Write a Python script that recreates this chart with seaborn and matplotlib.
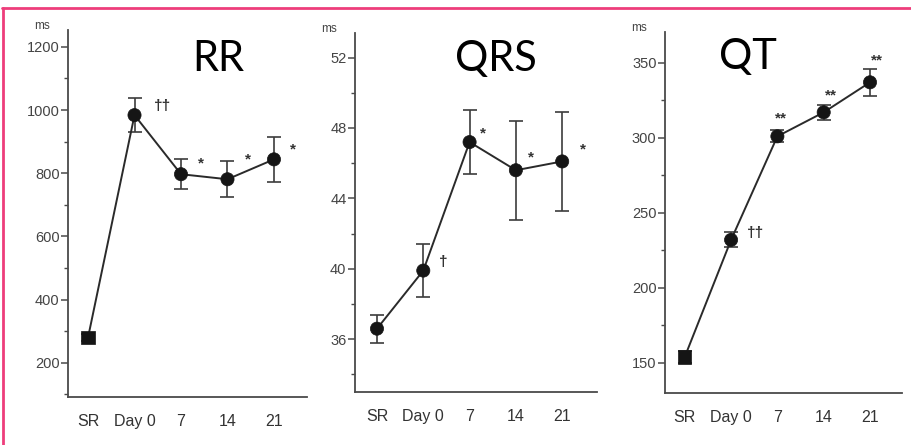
import matplotlib
matplotlib.use('Agg')
import matplotlib.pyplot as plt
from matplotlib.lines import Line2D
from matplotlib.ticker import MultipleLocator
import pandas as pd
import seaborn as sns

days = ['SR', 'Day 0', '7', '14', '21']

rr_mean = [280, 984, 797, 781, 844]
rr_err = [12, 55, 48, 57, 71]
rr_marks = ['', '††', '*', '*', '*']

qrs_mean = [36.6, 39.9, 47.2, 45.6, 46.1]
qrs_err = [0.8, 1.5, 1.8, 2.8, 2.8]
qrs_marks = ['', '†', '*', '*', '*']

qt_mean = [154, 232, 301, 317, 337]
qt_err = [4, 5, 4, 5, 9]
qt_marks = ['', '††', '**', '**', '**']

titles = ['RR', 'QRS', 'QT']
yticks = [[200, 400, 600, 800, 1000, 1200], [36, 40, 44, 48, 52], [150, 200, 250, 300, 350]]
minor_steps = [100, 2, 25]
ylims = [(92, 1254), (33.0, 53.4), (130, 370.5)]
sr_shapes = ['s', 'o', 's']

# layout (figure fractions)
boxes = [
    [0.0746, 0.108, 0.262, 0.825],
    [0.389, 0.119, 0.266, 0.807],
    [0.729, 0.117, 0.260, 0.811],
]
xlims = [(-0.43, 4.71), (-0.48, 4.76), (-0.43, 4.69)]
title_pos = [(0.63, 0.92), (0.58, 0.927), (0.35, 0.93)]
# annotation offsets in pixels from each point
mark_offsets = [
    [(0, 0), (28, 9), (20, 11), (20, 20), (19, 10)],
    [(0, 0), (20, 9), (13, 9), (15, 13), (21, 12)],
    [(0, 0), (24, 7), (4, 18), (7, 17), (7, 22)],
]

sns.set_style('white')
plt.rcParams['font.family'] = ['Liberation Sans', 'DejaVu Sans']

fig = plt.figure(figsize=(9.12, 4.45), dpi=100)

panels = [(rr_mean, rr_err, rr_marks), (qrs_mean, qrs_err, qrs_marks), (qt_mean, qt_err, qt_marks)]
axis_col = '#4a4a4a'
ink = '#151515'

for i, (mean, err, marks) in enumerate(panels):
    ax = fig.add_axes(boxes[i])
    df = pd.DataFrame({'x': range(len(days)), 'ms': mean, 'err': err,
                       'shape': ['sr'] + ['d'] * (len(days) - 1)})
    ax.errorbar(df['x'], df['ms'], yerr=df['err'], fmt='none', ecolor='#3c3c3c',
                elinewidth=1.2, capsize=5, capthick=1.2, zorder=2)
    sns.lineplot(data=df, x='x', y='ms', color='#2a2a2a', linewidth=1.4, ax=ax, zorder=3)
    sns.scatterplot(data=df, x='x', y='ms', style='shape',
                    markers={'sr': sr_shapes[i], 'd': 'o'}, s=90, color=ink,
                    edgecolor=ink, linewidth=0.5, legend=False, ax=ax, zorder=4)

    for j, m in enumerate(marks):
        if m:
            ax.annotate(m, xy=(j, mean[j]), xytext=mark_offsets[i][j], textcoords='offset pixels',
                        ha='center', va='center', fontsize=11, fontweight='bold', color='#333333')

    ax.set_xlim(*xlims[i])
    ax.set_ylim(*ylims[i])
    ax.set_xticks(range(len(days)))
    ax.set_xticklabels(days)
    ax.set_yticks(yticks[i])
    ax.yaxis.set_minor_locator(MultipleLocator(minor_steps[i]))
    ax.set_xlabel('')
    ax.set_ylabel('')
    ax.tick_params(axis='x', which='major', length=4, width=1.1, color=axis_col,
                   labelsize=11.5, labelcolor='#333333', pad=8)
    ax.tick_params(axis='y', which='major', length=5, width=1.1, color=axis_col,
                   labelsize=10.5, labelcolor='#444444', pad=1, left=True)
    ax.tick_params(axis='y', which='minor', length=3, width=1.0, color=axis_col, left=True)
    for side in ['top', 'right']:
        ax.spines[side].set_visible(False)
    for side in ['left', 'bottom']:
        ax.spines[side].set_color(axis_col)
        ax.spines[side].set_linewidth(1.3)

    ax.annotate('ms', xy=(0, 1), xycoords='axes fraction', xytext=(-26, 4),
                textcoords='offset pixels', ha='center', va='center', fontsize=8.5, color='#444444')
    ax.text(title_pos[i][0], title_pos[i][1], titles[i], transform=ax.transAxes,
            ha='center', va='center', fontsize=30, family='Lato', color='black')

# pink frame
pink = '#ee3d7b'
fig.add_artist(Line2D([0.002, 1.0], [0.982, 0.982], transform=fig.transFigure, color=pink, lw=2))
fig.add_artist(Line2D([0.003, 0.003], [0.0, 0.982], transform=fig.transFigure, color=pink, lw=2))

fig.savefig('out.png', dpi=100, facecolor='white')
